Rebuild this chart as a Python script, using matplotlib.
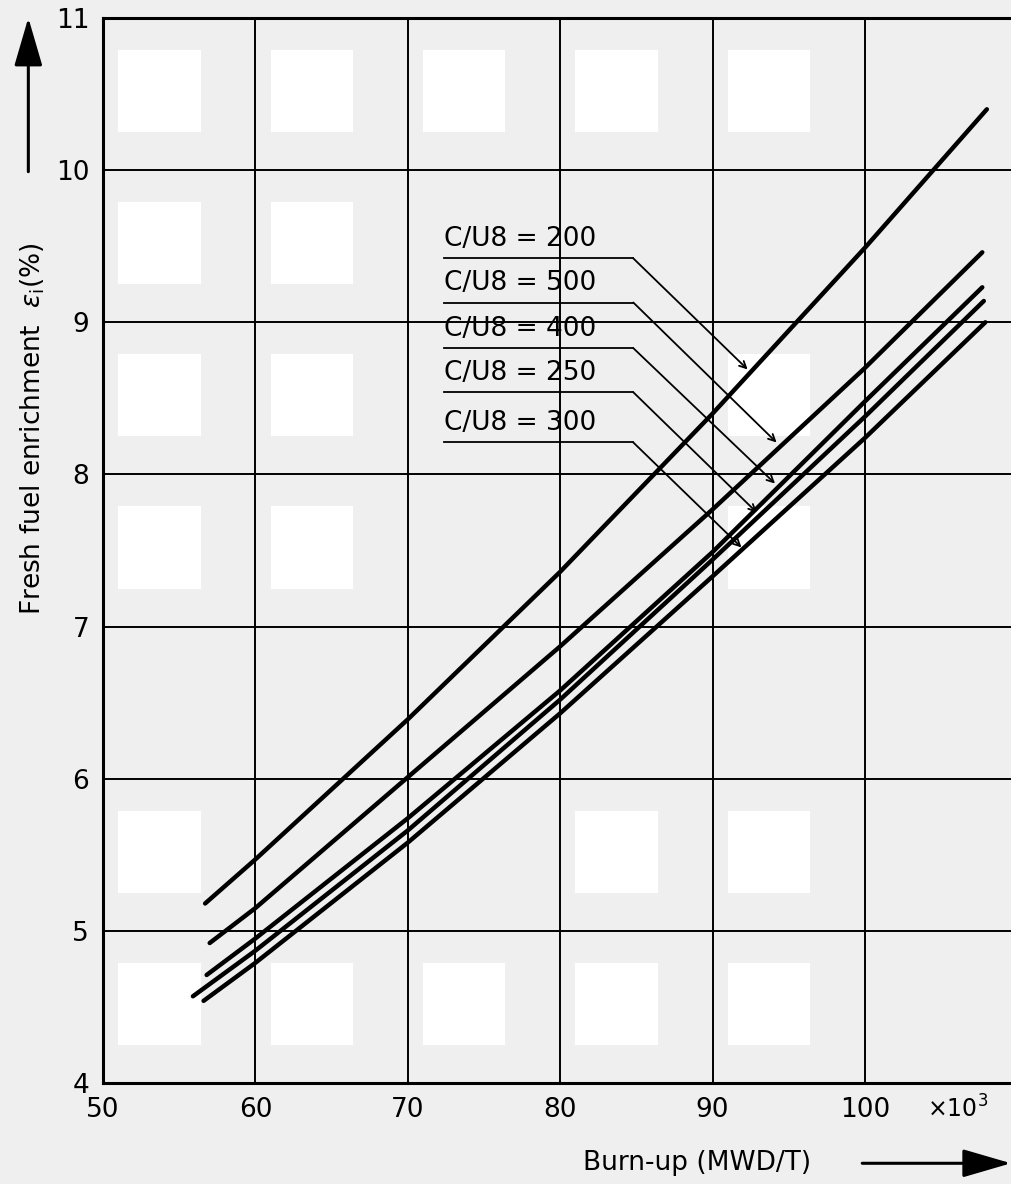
import matplotlib.pyplot as plt
from matplotlib.patches import Rectangle

# burn-up (x10^3 MWD/T) and fresh fuel enrichment (%)
burnup_200 = [56.7, 60, 70, 80, 90, 100, 108.0]
enrich_200 = [5.18, 5.47, 6.39, 7.36, 8.40, 9.49, 10.40]

burnup_500 = [57.0, 60, 70, 80, 90, 100, 107.7]
enrich_500 = [4.92, 5.15, 6.01, 6.87, 7.77, 8.70, 9.46]

burnup_400 = [56.8, 60, 70, 80, 90, 100, 107.7]
enrich_400 = [4.71, 4.95, 5.74, 6.58, 7.49, 8.48, 9.23]

burnup_250 = [55.9, 60, 70, 80, 90, 100, 107.8]
enrich_250 = [4.57, 4.87, 5.66, 6.52, 7.44, 8.38, 9.14]

burnup_300 = [56.6, 60, 70, 80, 90, 100, 107.9]
enrich_300 = [4.54, 4.79, 5.58, 6.43, 7.33, 8.24, 9.00]

labels = ['C/U8 = 200', 'C/U8 = 500', 'C/U8 = 400', 'C/U8 = 250', 'C/U8 = 300']
label_y = [9.42, 9.13, 8.83, 8.54, 8.21]          # underline height of each label
pointer_tip = [(92.3, 8.69), (94.2, 8.21), (94.1, 7.94), (92.9, 7.75), (91.9, 7.52)]

xticks = [50, 60, 70, 80, 90, 100]
yticks = [4, 5, 6, 7, 8, 9, 10, 11]

# scan artefact: lighter squares in some grid cells (cell lower-left corners)
light_cells = [(50, 10), (60, 10), (70, 10), (80, 10), (90, 10),
               (50, 9), (60, 9),
               (50, 8), (60, 8), (90, 8),
               (50, 7), (60, 7), (90, 7),
               (50, 5), (80, 5), (90, 5),
               (50, 4), (60, 4), (70, 4), (80, 4), (90, 4)]

bg = '#efefef'
plt.rcParams['font.family'] = 'DejaVu Sans'

fig = plt.figure(figsize=(10.12, 11.84), dpi=100, facecolor=bg)
ax = fig.add_axes([0.1018, 0.0853, 0.8982, 0.8995])
ax.set_facecolor(bg)

for cx, cy in light_cells:
    ax.add_patch(Rectangle((cx + 1.0, cy + 0.25), 5.4, 0.54,
                           facecolor='white', edgecolor='none', zorder=0))

ax.set_xlim(50, 109.65)
ax.set_ylim(4, 11)
ax.set_xticks(xticks)
ax.set_yticks(yticks)
ax.tick_params(length=0, labelsize=19, pad=10)
ax.grid(True, color='black', linewidth=1.4, zorder=1)
ax.set_axisbelow(True)
for side in ['left', 'bottom', 'top']:
    ax.spines[side].set_linewidth(2.2)
ax.spines['right'].set_visible(False)

curves = [(burnup_200, enrich_200), (burnup_500, enrich_500), (burnup_400, enrich_400),
          (burnup_250, enrich_250), (burnup_300, enrich_300)]
for bx, ey in curves:
    ax.plot(bx, ey, color='black', linewidth=3.2, solid_capstyle='round',
            solid_joinstyle='round', zorder=3)

for text, ly, (tx, ty) in zip(labels, label_y, pointer_tip):
    ax.text(72.4, ly + 0.04, text, fontsize=19, ha='left', va='bottom', zorder=4)
    # underline then 45 degree leader down to the curve
    x_end = 84.8
    ax.plot([72.4, x_end], [ly, ly], color='black', linewidth=1.3, zorder=4)
    ax.annotate('', xy=(tx, ty), xytext=(x_end, ly),
                arrowprops=dict(arrowstyle='->', color='black', lw=1.3,
                                shrinkA=0, shrinkB=0, mutation_scale=12),
                zorder=4)

fig.text(0.977, 0.0635, r'$\times 10^3$', fontsize=17, ha='right', va='center')

head = '-|>,head_length=1.2,head_width=0.35'
fig.text(0.032, 0.638, r'Fresh fuel enrichment  $\varepsilon_\mathrm{i}$(%)',
         rotation=90, fontsize=19, ha='center', va='center')
ax.annotate('', xy=(0.028, 0.985), xytext=(0.028, 0.855), xycoords='figure fraction',
            arrowprops=dict(arrowstyle=head, color='black', lw=2.2,
                            shrinkA=0, shrinkB=0, mutation_scale=25))

fig.text(0.689, 0.0175, 'Burn-up (MWD/T)', fontsize=19, ha='center', va='center')
ax.annotate('', xy=(0.999, 0.0175), xytext=(0.852, 0.0175), xycoords='figure fraction',
            arrowprops=dict(arrowstyle=head, color='black', lw=2.2,
                            shrinkA=0, shrinkB=0, mutation_scale=25))

fig.savefig('out.png', dpi=100, facecolor=bg)
